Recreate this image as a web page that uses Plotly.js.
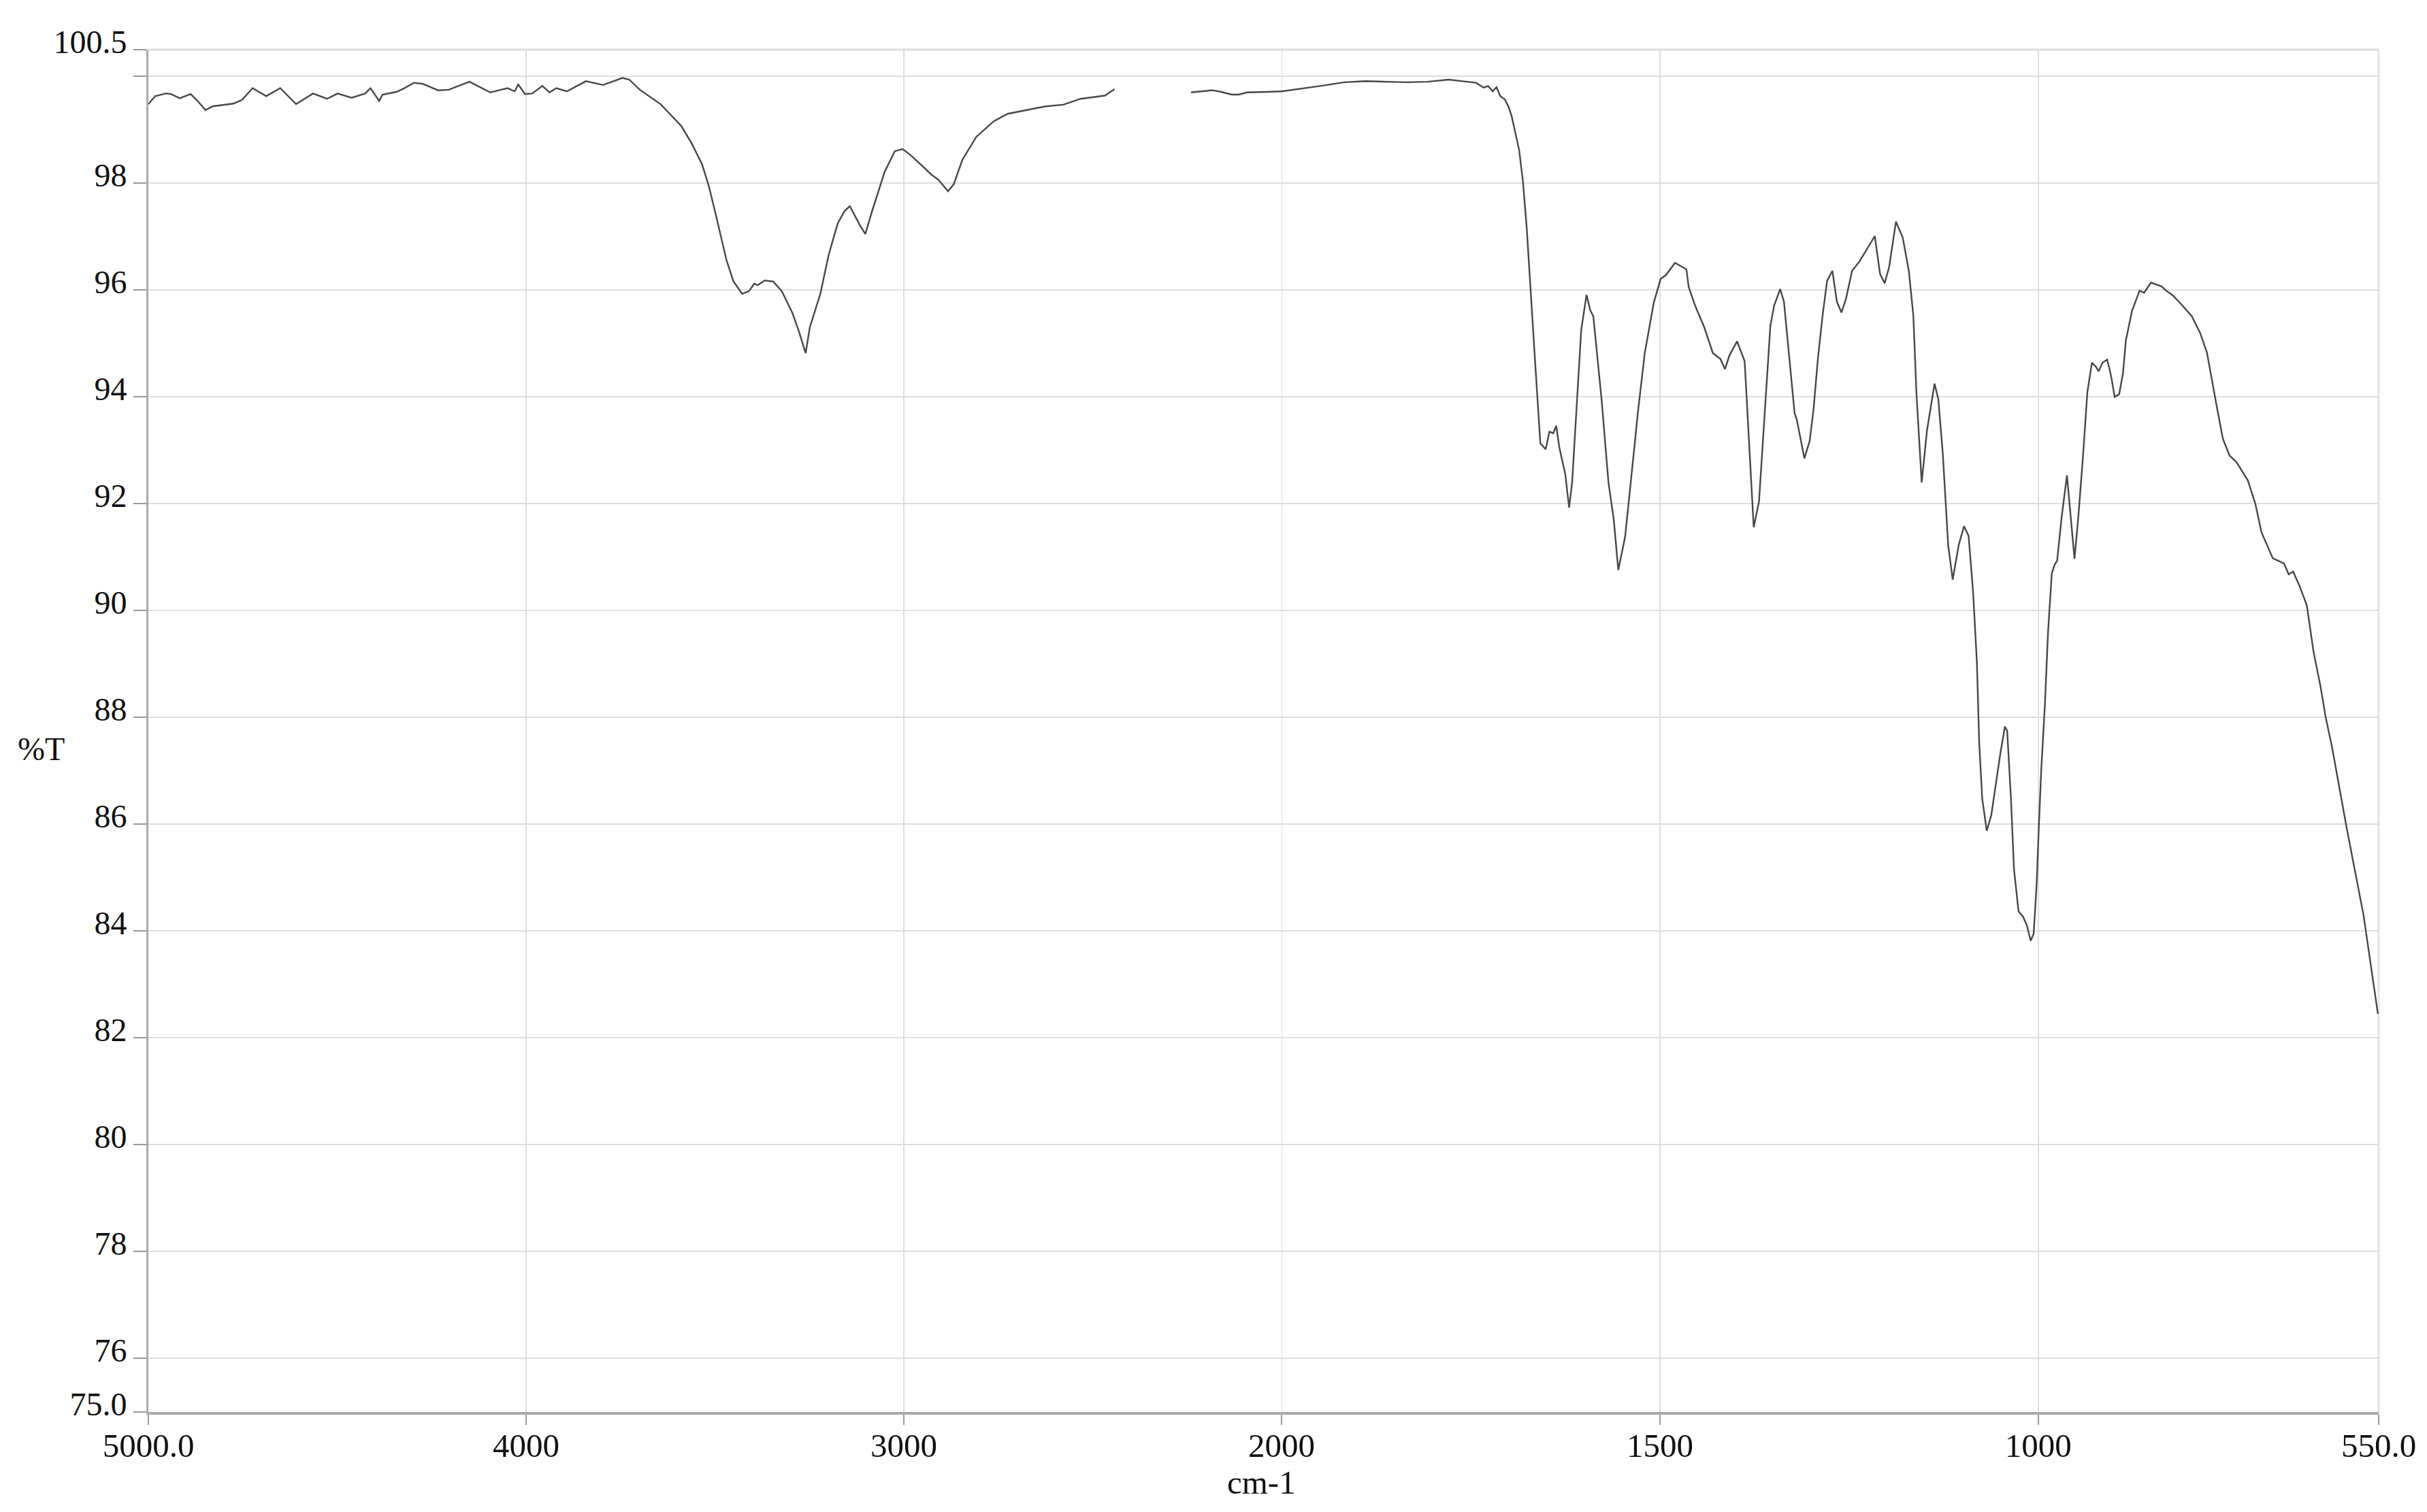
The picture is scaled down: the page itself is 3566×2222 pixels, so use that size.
<!DOCTYPE html>
<html>
<head>
<meta charset="utf-8">
<script src="https://cdn.plot.ly/plotly-3.0.1.min.js"></script>
<style>html,body{margin:0;padding:0;background:#fff;}#chart{width:3566px;height:2222px;}</style>
</head>
<body>
<div id="chart"></div>
<script>
// 5000 -> 2000 cm-1 (compressed scale); null marks the removed CO2 region
const wavenumberHigh = [5000,4982,4954,4940,4917,4888,4867,4849,4830,4775,4752,4724,4688,4651,4609,4564,4527,4499,4462,4426,4412,4398,4389,4380,4343,4325,4297,4274,4233,4205,4150,4095,4049,4030,4021,4003,3984,3957,3938,3920,3892,3842,3796,3745,3727,3699,3663,3644,3589,3562,3534,3516,3497,3470,3451,3428,3410,3396,3387,3369,3346,3323,3295,3277,3260,3249,3221,3199,3175,3157,3143,3129,3116,3102,3084,3051,3024,3003,2983,2955,2927,2909,2883,2868,2845,2808,2762,2725,2670,2624,2578,2532,2468,2442,2340,2240,2183,2160,2132,2114,2091,2036,2000];
const transmittanceHigh = [99.48,99.63,99.68,99.67,99.59,99.67,99.52,99.37,99.44,99.49,99.56,99.78,99.63,99.78,99.48,99.68,99.58,99.68,99.60,99.68,99.78,99.63,99.54,99.66,99.71,99.77,99.88,99.86,99.74,99.75,99.90,99.70,99.78,99.72,99.85,99.67,99.68,99.82,99.70,99.78,99.72,99.91,99.84,99.97,99.94,99.75,99.58,99.48,99.07,98.75,98.35,97.94,97.39,96.57,96.16,95.93,95.98,96.12,96.09,96.18,96.16,95.98,95.57,95.21,94.82,95.30,95.93,96.66,97.25,97.48,97.57,97.39,97.21,97.05,97.48,98.21,98.60,98.64,98.53,98.35,98.16,98.07,97.85,97.98,98.44,98.87,99.16,99.30,99.38,99.44,99.47,99.58,99.64,99.76,null,99.70,99.74,99.71,99.66,99.66,99.70,99.71,99.72];

// 2000 -> 550 cm-1 (expanded scale)
const wavenumberLow = [2000,1972,1949,1917,1889,1862,1834,1807,1779,1761,1743,1733,1727,1721,1716,1711,1705,1700,1696,1686,1681,1676,1671,1664,1658,1651,1646,1641,1637,1633,1625,1620,1616,1610,1604,1597,1592,1588,1577,1568,1561,1555,1546,1538,1529,1520,1508,1499,1492,1480,1465,1462,1454,1441,1430,1420,1414,1408,1398,1388,1383,1376,1369,1361,1354,1349,1341,1336,1328,1322,1319,1309,1302,1297,1291,1285,1279,1272,1266,1260,1254,1246,1236,1227,1216,1209,1203,1197,1188,1179,1171,1165,1161,1154,1147,1137,1132,1126,1119,1113,1105,1098,1092,1086,1081,1078,1074,1068,1062,1056,1050,1044,1041,1036,1032,1026,1020,1015,1010,1006,1002,999,996,991,987,982,978,975,969,962,957,952,947,941,935,929,924,920,915,909,906,903,899,893,888,884,876,866,860,851,837,831,822,810,797,786,777,771,765,756,747,738,723,713,705,690,675,669,663,654,645,636,627,620,612,592,570,562,551];
const transmittanceLow = [99.72,99.77,99.82,99.89,99.91,99.90,99.89,99.90,99.94,99.91,99.88,99.79,99.82,99.72,99.80,99.63,99.57,99.43,99.26,98.62,98.03,97.16,95.99,94.45,93.13,93.02,93.35,93.32,93.46,93.06,92.55,91.93,92.40,93.87,95.25,95.91,95.62,95.51,93.94,92.40,91.71,90.76,91.38,92.47,93.72,94.82,95.77,96.21,96.28,96.51,96.39,96.06,95.73,95.29,94.82,94.71,94.52,94.78,95.04,94.67,93.35,91.56,92.04,93.72,95.33,95.71,96.02,95.78,94.54,93.70,93.57,92.85,93.18,93.76,94.74,95.52,96.17,96.36,95.78,95.58,95.84,96.36,96.54,96.75,97.01,96.30,96.13,96.43,97.28,96.98,96.36,95.52,94.09,92.40,93.37,94.25,93.96,92.92,91.23,90.58,91.23,91.58,91.40,90.34,89.02,87.54,86.48,85.88,86.17,86.75,87.33,87.83,87.75,86.48,85.16,84.37,84.27,84.11,83.82,83.95,84.90,86.01,87.01,88.28,89.60,90.70,90.87,90.93,91.75,92.53,91.75,90.97,91.75,92.85,94.09,94.64,94.57,94.48,94.64,94.70,94.54,94.34,94.00,94.05,94.44,95.07,95.61,95.99,95.95,96.14,96.07,95.99,95.90,95.72,95.51,95.20,94.83,94.39,93.90,93.22,92.90,92.78,92.44,92.00,91.47,90.98,90.88,90.68,90.73,90.44,90.10,89.22,88.59,88.00,87.47,85.91,84.30,83.52,82.45];

const yTickValues = [75, 76, 78, 80, 82, 84, 86, 88, 90, 92, 94, 96, 98, 100, 100.5];
const yTickLabels = ['75.0', '76', '78', '80', '82', '84', '86', '88', '90', '92', '94', '96', '98', '', '100.5'];
const xTickHighValues = [5000, 4000, 3000, 2000];
const xTickHighLabels = ['5000.0', '4000', '3000', '2000'];
const xTickLowValues = [1500, 1000, 550];
const xTickLowLabels = ['1500', '1000', '550.0'];
const xTitle = 'cm-1';
const yTitle = '%T';

const lineStyle = {color: '#474747', width: 2.4};
const gridColor = '#dedede';
const axisColor = '#ababab';
const fontFamily = '"Liberation Serif", "Times New Roman", serif';

const traces = [
  {x: wavenumberHigh, y: transmittanceHigh, xaxis: 'x', yaxis: 'y', type: 'scatter', mode: 'lines',
   line: lineStyle, connectgaps: false, hoverinfo: 'skip'},
  {x: wavenumberLow, y: transmittanceLow, xaxis: 'x2', yaxis: 'y', type: 'scatter', mode: 'lines',
   line: lineStyle, connectgaps: false, hoverinfo: 'skip'}
];

const xCommon = {
  showgrid: true, gridcolor: gridColor, gridwidth: 2,
  zeroline: false, showline: true, linecolor: axisColor, linewidth: 4,
  ticks: 'outside', ticklen: 15, tickwidth: 2, tickcolor: '#999',
  tickfont: {family: fontFamily, size: 49, color: '#111'},
  ticklabelstandoff: -12,
  tickmode: 'array', anchor: 'y', fixedrange: true
};

const layout = {
  width: 3566, height: 2222,
  margin: {l: 218, r: 71, t: 73, b: 147, pad: 0},
  paper_bgcolor: '#ffffff', plot_bgcolor: '#ffffff',
  showlegend: false,
  font: {family: fontFamily, size: 48, color: '#111'},
  xaxis: Object.assign({}, xCommon, {
    domain: [0, 0.5081], range: [5000, 2000],
    tickvals: xTickHighValues, ticktext: xTickHighLabels
  }),
  xaxis2: Object.assign({}, xCommon, {
    domain: [0.5081, 1], range: [2000, 550],
    tickvals: xTickLowValues, ticktext: xTickLowLabels
  }),
  yaxis: {
    range: [75, 100.5], showgrid: true, gridcolor: gridColor, gridwidth: 2,
    zeroline: false, showline: true, linecolor: axisColor, linewidth: 3,
    ticks: 'outside', ticklen: 19, tickwidth: 2, tickcolor: '#999',
    tickmode: 'array', tickvals: yTickValues, ticktext: yTickLabels,
    tickfont: {family: fontFamily, size: 48, color: '#111'},
    ticklabelshift: -12, fixedrange: true
  },
  shapes: [
    {type: 'line', xref: 'paper', yref: 'paper', x0: 0, x1: 1, y0: 1, y1: 1,
     line: {color: gridColor, width: 3}, layer: 'below'},
    {type: 'line', xref: 'paper', yref: 'paper', x0: 1, x1: 1, y0: 0, y1: 1,
     line: {color: '#e4e4e4', width: 3}, layer: 'below'},
    {type: 'line', xref: 'x2', yref: 'paper', x0: 2000, x1: 2000, y0: 0, y1: 1,
     line: {color: gridColor, width: 2}, layer: 'below'}
  ],
  annotations: [
    {text: xTitle, xref: 'paper', yref: 'paper', x: 0.499, y: -0.0515,
     xanchor: 'center', yanchor: 'middle', showarrow: false,
     font: {family: fontFamily, size: 49, color: '#111'}},
    {text: yTitle, xref: 'paper', yref: 'paper', x: -0.0482, y: 0.487,
     xanchor: 'center', yanchor: 'middle', showarrow: false,
     font: {family: fontFamily, size: 48, color: '#111'}}
  ]
};

Plotly.newPlot('chart', traces, layout, {staticPlot: true, displayModeBar: false});
</script>
</body>
</html>
